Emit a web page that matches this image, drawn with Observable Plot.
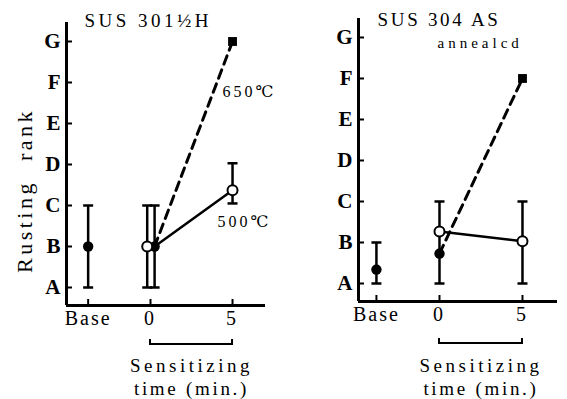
<!DOCTYPE html>
<html><head><meta charset="utf-8">
<script src="https://cdn.jsdelivr.net/npm/d3@7"></script>
<script src="https://cdn.jsdelivr.net/npm/@observablehq/plot@0.6"></script>
<style>
body{margin:0;background:#fff}
#wrap{display:flex;width:567px;height:399px;background:#fff}
#wrap svg text{letter-spacing:3px}
</style></head><body><div id="wrap"></div>
<script>
// ---- shared axis definitions ----
const ranks = ["A","B","C","D","E","F","G"];
const rankValues = [1,2,3,4,5,6,7];
const timeTicks = [-3.8, 0, 5];
const timeLabels = ["Base", "0", "5"];
const sensitizingMid = 2.5;

// ---- SUS 301½H ----
const sus301Filled = [{t:-3.8, rank:2, lo:1, hi:3}, {t:0.25, rank:2, lo:1, hi:3}];
const sus301Open   = [{t:-0.2, rank:2, lo:1, hi:3}, {t:5, rank:3.37, lo:3.05, hi:4.03}];
const sus301Line650 = [{t:0.25, rank:2}, {t:5, rank:7}];
const sus301Line500 = [{t:0.25, rank:2}, {t:5, rank:3.37}];
const sus301End650 = [{t:5, rank:7}];
const sus301Labels = [{t:4.39, rank:5.76, text:"650℃"}, {t:4.09, rank:2.59, text:"500℃"}];

// ---- SUS 304 AS annealed ----
const sus304Filled = [{t:-3.8, rank:1.34, lo:1, hi:2}, {t:0, rank:1.73}];
const sus304Open   = [{t:0, rank:2.27, lo:1, hi:3}, {t:5, rank:2.03, lo:1, hi:3}];
const sus304Line650 = [{t:0, rank:1.73}, {t:5, rank:6}];
const sus304LineOpen = [{t:0, rank:2.27}, {t:5, rank:2.03}];
const sus304End650 = [{t:5, rank:6}];

const FONT = "'Liberation Serif', 'DejaVu Serif', serif";
const capSym = {draw(ctx, size){const r=Math.sqrt(size/Math.PI); ctx.moveTo(-r,0); ctx.lineTo(r,0);}};
const spacing = {"Sensitizing":"3.5px", "time (min.)":"2.7px", "annealcd":"4px", "SUS 301½H":"3.5px", "SUS 304 AS":"2.7px", "Base":"2px"};

function panel(o){
  const fw = o.width - o.ml - o.mr, fh = o.height - o.mt - o.mb;
  const bars = [...o.filled, ...o.open].filter(d => d.lo != null);
  const caps = bars.flatMap(d => [{t:d.t, rank:d.lo}, {t:d.t, rank:d.hi}]);
  const marks = [
    Plot.ruleX([o.xDomain[0]], {strokeWidth:3}),
    Plot.ruleY([o.yDomain[0]], {strokeWidth:3}),
    Plot.ruleY(rankValues, {insetRight: fw - 6, strokeWidth:2}),
    Plot.ruleX(timeTicks, {insetTop: fh - 6, strokeWidth:2}),
    Plot.text(rankValues, {y: d => d, text: d => ranks[d-1], frameAnchor:"left", textAnchor:"end", lineAnchor:"middle", dx:-6, fontWeight:"bold", fontSize:21}),
    Plot.text(timeTicks, {x: d => d, text: d => timeLabels[timeTicks.indexOf(d)], frameAnchor:"bottom", lineAnchor:"middle", dy:13, fontSize:20}),
    Plot.ruleX(bars, {x:"t", y1:"lo", y2:"hi", strokeWidth:2.5}),
    Plot.dot(caps, {x:"t", y:"rank", symbol:capSym, r:5, stroke:"black", strokeWidth:2.5, fill:"none"}),
    Plot.line(o.line650, {x:"t", y:"rank", stroke:"black", strokeWidth:3, strokeDasharray:"9,6"}),
    Plot.line(o.lineSolid, {x:"t", y:"rank", stroke:"black", strokeWidth:2.5}),
    Plot.dot(o.filled, {x:"t", y:"rank", r:5.2, fill:"black"}),
    Plot.dot(o.open, {x:"t", y:"rank", r:5, fill:"white", stroke:"black", strokeWidth:2}),
    Plot.dot(o.end650, {x:"t", y:"rank", symbol:"square", r:5, fill:"black"}),
    Plot.text([o.title], {frameAnchor:"top-left", textAnchor:"start", lineAnchor:"middle", dx:o.titleDx, dy:o.titleDy, fontSize:19}),
    Plot.text([{t:sensitizingMid, text:"Sensitizing"}], {x:"t", text:"text", frameAnchor:"bottom", dy:o.sensDy, fontSize:19}),
    Plot.text([{t:sensitizingMid, text:"time (min.)"}], {x:"t", text:"text", frameAnchor:"bottom", dy:o.sensDy + 23, fontSize:19})
  ];
  if (o.labels) marks.push(Plot.text(o.labels, {x:"t", y:"rank", text:"text", textAnchor:"start", fontSize:16}));
  if (o.subtitle) marks.push(Plot.text([o.subtitle], {frameAnchor:"top-left", textAnchor:"start", lineAnchor:"middle", dx:o.subDx, dy:o.subDy, fontSize:15}));
  if (o.yLabel) marks.push(Plot.text([o.yLabel], {frameAnchor:"left", textAnchor:"middle", lineAnchor:"middle", rotate:-90, dx:-42, dy:26.5, fontSize:22}));
  const plot = Plot.plot({
    width:o.width, height:o.height,
    marginLeft:o.ml, marginRight:o.mr, marginTop:o.mt, marginBottom:o.mb,
    x:{domain:o.xDomain, axis:null}, y:{domain:o.yDomain, axis:null},
    style:{fontFamily:FONT, fontSize:"18px", background:"white", color:"black"},
    marks
  });
  d3.select(plot).selectAll("text").each(function(){
    const s = this.textContent;
    if (s.length === 1 && ranks.includes(s)) this.style.letterSpacing = "0px";
    else if (spacing[s]) this.style.letterSpacing = spacing[s];
    if (s === "Rusting rank") { this.style.letterSpacing = "3.5px"; this.style.wordSpacing = "10px"; }
  });
  const sx = plot.scale("x"), sy = plot.scale("y");
  const x0 = sx.apply(0), x1 = sx.apply(5), yb = sy.apply(o.yDomain[0]) + o.bracketDy;
  d3.select(plot).append("path")
    .attr("d", `M${x0},${yb-5}V${yb}H${x1}V${yb-5}`)
    .attr("fill","none").attr("stroke","black").attr("stroke-width",2);
  return plot;
}

const wrap = document.getElementById("wrap");
wrap.append(panel({
  width:290, height:399, ml:66, mr:25, mt:22, mb:94,
  xDomain:[-5.12, 7.01], yDomain:[0.561, 7.463],
  filled:sus301Filled, open:sus301Open, line650:sus301Line650, lineSolid:sus301Line500, end650:sus301End650,
  labels:sus301Labels, title:"SUS 301½H", titleDx:18, titleDy:-2,
  yLabel:"Rusting rank", sensDy:66, bracketDy:39
}));
wrap.append(panel({
  width:277, height:399, ml:68, mr:10, mt:18, mb:98,
  xDomain:[-4.88, 7.11], yDomain:[0.561, 7.463],
  filled:sus304Filled, open:sus304Open, line650:sus304Line650, lineSolid:sus304LineOpen, end650:sus304End650,
  title:"SUS 304 AS", titleDx:19, titleDy:1.5, subtitle:"annealcd", subDx:79, subDy:25,
  sensDy:70, bracketDy:42
}));
</script></body></html>
